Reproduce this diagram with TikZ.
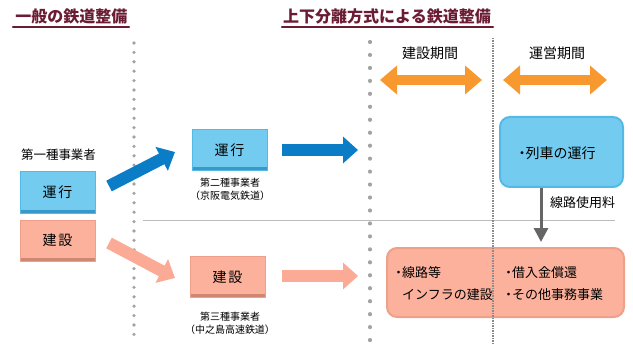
\documentclass[tikz,border=0pt]{standalone}
\usepackage{fontspec}
\setmainfont{Noto Sans CJK JP}
\usetikzlibrary{arrows.meta}
\definecolor{ttlc}{HTML}{6B1B33}
\definecolor{dotc}{HTML}{A3A3A3}
\definecolor{boxb}{HTML}{73CBF0}
\definecolor{boxbe}{HTML}{55B9E6}
\definecolor{boxbd}{HTML}{3A98C8}
\definecolor{boxs}{HTML}{FCB19C}
\definecolor{boxse}{HTML}{EFA08A}
\definecolor{boxsd}{HTML}{D08671}
\definecolor{arrb}{HTML}{0A7DC6}
\definecolor{arrs}{HTML}{FBAA96}
\definecolor{arro}{HTML}{F8992F}
\definecolor{rulec}{HTML}{BBBBBB}
\definecolor{fdot}{HTML}{8A8A8A}
\definecolor{garr}{HTML}{666666}
\newcommand{\nkg}{\hbox to 7pt{\hss ・\hss}}
\begin{document}
\begin{tikzpicture}[x=1pt,y=-1pt,
  ttl/.style={font=\fontsize{16}{16}\selectfont\bfseries, text=ttlc, inner sep=0pt},
  ttlline/.style={draw=ttlc, line width=2.5pt, line cap=round},
  lbl/.style={font=\fontsize{#1}{#1}\selectfont, inner sep=0pt},
  lbl/.default=13,
  bevelblue/.style={minimum width=75pt, minimum height=41pt, fill=boxb, draw=boxbe, line width=1pt,
    font=\fontsize{14}{14}\selectfont,
    path picture={\fill[boxbd] (path picture bounding box.south west) rectangle ([yshift=3.5pt]path picture bounding box.south east);}},
  bevelsalmon/.style={minimum width=75pt, minimum height=41pt, fill=boxs, draw=boxse, line width=1pt,
    font=\fontsize{14}{14}\selectfont,
    path picture={\fill[boxsd] (path picture bounding box.south west) rectangle ([yshift=3.5pt]path picture bounding box.south east);}},
  bigarrow/.style={line width=12pt, -{Triangle[length=15pt,width=26pt]}},
  dblarrow/.style={draw=arro, line width=10pt, {Triangle[length=17pt,width=28pt]}-{Triangle[length=17pt,width=28pt]}},
  ]
\useasboundingbox (0,0) rectangle (633,353);

% titles
\node[ttl] (t1) at (71.5,16) {一般の鉄道整備};
\node[ttl] (t2) at (387,16) {上下分離方式による鉄道整備};
\coordinate (u1a) at (13,27); \coordinate (u1b) at (129,27);
\coordinate (u2a) at (282,27); \coordinate (u2b) at (493,27);
\draw[ttlline] (u1a) -- (u1b);
\draw[ttlline] (u2a) -- (u2b);

% dotted separators
\foreach \i in {0,...,31} \fill[dotc] (134,43+\i*9.4) circle (1.8);
\foreach \i in {0,...,23} \fill[dotc] (370,42+\i*12.96) circle (2.1);

% horizontal rule
\coordinate (ra) at (143,220); \coordinate (rb) at (615,220);
\draw[rulec, line width=1pt] (ra) -- (rb);

% period headers
\node[lbl=14] (pc) at (430,53) {建設期間};
\node[lbl=14] (po) at (557,53) {運営期間};
\coordinate (oa1) at (380,80); \coordinate (oa2) at (482,80);
\coordinate (ob1) at (503,80); \coordinate (ob2) at (607,80);
\draw[dblarrow] (oa1) -- (oa2);
\draw[dblarrow] (ob1) -- (ob2);

% left side
\node[lbl=12.5] (k1) at (58.5,155) {第一種事業者};
\node[bevelblue] (L1) at (57.5,192.5) {運\hspace{2pt}行};
\node[bevelsalmon] (L2) at (57.5,240.5) {建\hspace{2pt}設};

% middle
\node[bevelblue] (M1) at (229.5,150) {運\hspace{2pt}行};
\node[lbl=10] (k2a) at (230,183) {第二種事業者};
\node[lbl=10] (k2b) at (230,195.5) {（京阪電気鉄道）};
\node[bevelsalmon] (M2) at (227.5,277) {建\hspace{2pt}設};
\node[lbl=10] (k3a) at (230,317) {第三種事業者};
\node[lbl=10] (k3b) at (230,330) {（中之島高速鉄道）};

% diagonal arrows
\coordinate (d1a) at (109,186); \coordinate (d1b) at (175,152);
\coordinate (d2a) at (109,243); \coordinate (d2b) at (175,278);
\draw[bigarrow, draw=arrb] (d1a) -- (d1b);
\draw[bigarrow, draw=arrs] (d2a) -- (d2b);

% horizontal arrows
\coordinate (h1a) at (282,150); \coordinate (h1b) at (358,150);
\coordinate (h2a) at (282,276); \coordinate (h2b) at (358,276);
\draw[bigarrow, draw=arrb] (h1a) -- (h1b);
\draw[bigarrow, draw=arrs] (h2a) -- (h2b);

% right boxes
\node[draw=boxbe, fill=boxb, line width=2pt, rounded corners=10pt, minimum width=123pt, minimum height=70pt, inner sep=0pt] (R1) at (561.5,152) {};
\node[lbl=14] (R1t) at (557,153) {\nkg 列車の運行};
\node[draw=boxse, fill=boxs, line width=2pt, rounded corners=10pt, minimum width=237pt, minimum height=69pt, inner sep=0pt] (R2) at (505.5,282.5) {};
\node[lbl=13, anchor=west] (R2a) at (395,273) {\nkg 線路等};
\node[lbl=13, anchor=west] (R2b) at (402,295) {インフラの建設};
\node[lbl=13, anchor=west] (R2c) at (505,273) {\nkg 借入金償還};
\node[lbl=13, anchor=west] (R2d) at (505,295) {\nkg その他事務事業};

% fine dotted line
\coordinate (fa) at (493,38); \coordinate (fb) at (493,345);
\draw[fdot, line width=1.1pt, dash pattern=on 1.1pt off 1.4pt] (fa) -- (fb);

% gray arrow
\coordinate (ga) at (541,188); \coordinate (gb) at (541,242);
\draw[garr, line width=3pt, -{Triangle[length=14pt,width=14pt]}] (ga) -- (gb);
\node[lbl=13, anchor=west] (fee) at (550,203) {線路使用料};
\end{tikzpicture}
\end{document}
